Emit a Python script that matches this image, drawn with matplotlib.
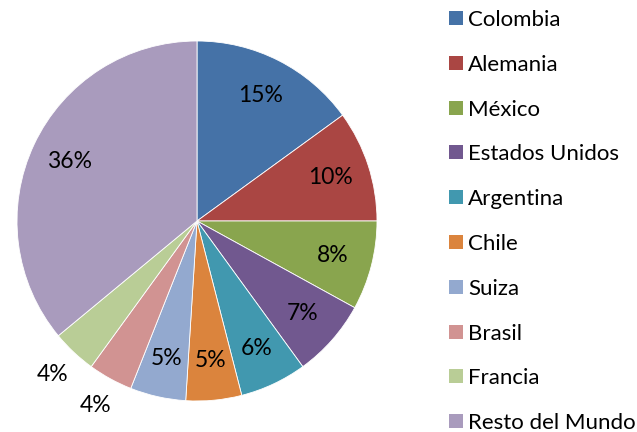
import matplotlib
matplotlib.use("Agg")
import matplotlib.pyplot as plt
from matplotlib.patches import Rectangle
import numpy as np

categories = ["Colombia", "Alemania", "México", "Estados Unidos", "Argentina",
              "Chile", "Suiza", "Brasil", "Francia", "Resto del Mundo"]
values = [15, 10, 8, 7, 6, 5, 5, 4, 4, 36]
colors = ["#4572A7", "#AA4643", "#89A54E", "#71588F", "#4198AF",
          "#DB843D", "#93A9CF", "#D19392", "#B9CD96", "#A99BBD"]
outside_labels = ["Brasil", "Francia"]

plt.rcParams['font.family'] = ['Lato', 'DejaVu Sans']
FS = 16

W, H = 637, 432
fig = plt.figure(figsize=(W / 100, H / 100), dpi=100)
ax = fig.add_axes([17 / W, (H - 401) / H, 360 / W, 360 / H])

wedges, texts, autotexts = ax.pie(
    values, colors=colors, startangle=90, counterclock=False,
    autopct=lambda p: f"{p:.0f}%", pctdistance=0.78,
    wedgeprops=dict(edgecolor="white", linewidth=0.6),
    textprops=dict(fontsize=FS + 0.5, color="black"))
ax.set_xlim(-1, 1)
ax.set_ylim(-1, 1)
ax.set_aspect("equal")
ax.axis("off")

for w, t, name in zip(wedges, autotexts, categories):
    if name in outside_labels:
        ang = np.deg2rad((w.theta1 + w.theta2) / 2)
        t.set_position((1.17 * np.cos(ang), 1.17 * np.sin(ang)))

# legend
sq = 14
for i, (name, c) in enumerate(zip(categories, colors)):
    yc = 18 + 44.8 * i
    fig.patches.append(Rectangle(((449) / W, (H - yc - sq / 2) / H), sq / W, sq / H,
                                 transform=fig.transFigure, facecolor=c,
                                 edgecolor="none"))
    fig.text(468 / W, (H - yc) / H, name, fontsize=FS, va="center_baseline",
             ha="left", color="black")

fig.savefig("out.png", dpi=100)
